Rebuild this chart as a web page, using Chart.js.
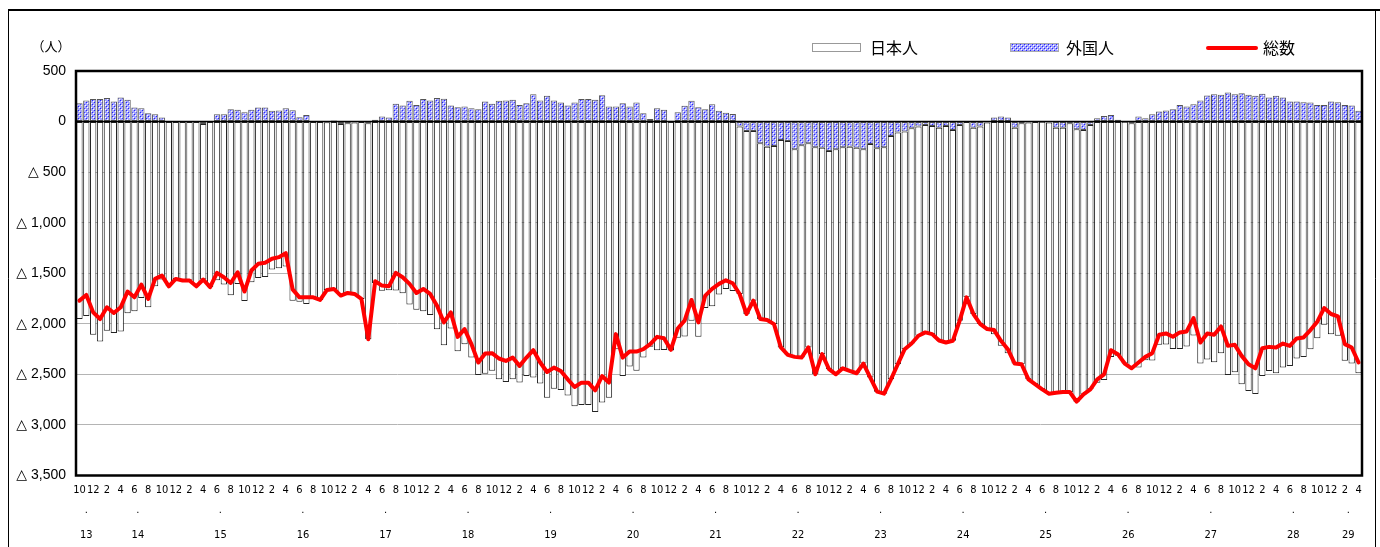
<!DOCTYPE html>
<html>
<head>
<meta charset="utf-8">
<script src="https://cdn.jsdelivr.net/npm/chart.js@4.4.1/dist/chart.umd.min.js"></script>
<style>
html, body { margin: 0; padding: 0; background: #fff; }
</style>
</head>
<body>
<canvas id="c" width="1380" height="547"></canvas>
<script>
// monthly change, H13.10 - H29.4
var firstMonth = 10;

// year row under the month ticks (position in months from H13.10)
var years = ['13','14','15','16','17','18','19','20','21','22','23','24','25','26','27','28','29'];
var yearAt = [1, 8.5, 20.5, 32.5, 44.5, 56.5, 68.5, 80.5, 92.5, 104.5, 116.5, 128.5, 140.5, 152.5, 164.5, 176.5, 184.5];

// 総数 (line)
var total = [
  -1771,-1715,-1887,-1953,-1837,-1893,-1837,-1681,-1738,-1612,
  -1754,-1556,-1523,-1629,-1556,-1572,-1572,-1629,-1562,-1638,
  -1496,-1539,-1596,-1490,-1681,-1473,-1407,-1397,-1357,-1341,
  -1301,-1660,-1738,-1738,-1738,-1764,-1665,-1655,-1721,-1695,
  -1705,-1754,-2152,-1579,-1622,-1629,-1496,-1539,-1605,-1695,
  -1655,-1705,-1821,-1986,-1887,-2129,-2052,-2201,-2383,-2294,
  -2290,-2343,-2367,-2334,-2416,-2334,-2261,-2383,-2476,-2433,
  -2466,-2549,-2625,-2582,-2582,-2658,-2516,-2582,-2102,-2334,
  -2274,-2274,-2251,-2201,-2129,-2142,-2257,-2046,-1969,-1764,
  -1986,-1721,-1655,-1605,-1570,-1599,-1705,-1903,-1771,-1953,
  -1963,-2003,-2234,-2307,-2327,-2334,-2234,-2499,-2300,-2449,
  -2499,-2440,-2466,-2489,-2393,-2532,-2671,-2691,-2549,-2400,
  -2251,-2195,-2118,-2085,-2102,-2165,-2185,-2168,-1969,-1738,
  -1903,-2003,-2052,-2062,-2168,-2251,-2393,-2400,-2549,-2598,
  -2648,-2691,-2681,-2674,-2674,-2770,-2698,-2648,-2549,-2499,
  -2261,-2300,-2393,-2440,-2383,-2327,-2290,-2108,-2095,-2128,
  -2085,-2075,-1943,-2185,-2095,-2108,-2026,-2218,-2208,-2317,
  -2400,-2440,-2241,-2228,-2234,-2195,-2218,-2145,-2135,-2062,
  -1979,-1844,-1903,-1926,-2201,-2234,-2383
];

// 外国人
var foreign = [
  182,208,222,222,232,199,238,215,139,132,
  83,73,40,0,0,0,-5,0,-23,0,
  73,73,122,116,93,116,139,139,106,109,
  132,112,43,66,0,0,-7,10,-23,-17,
  -10,0,-17,17,50,40,175,159,205,165,
  222,208,232,225,159,142,149,132,122,199,
  175,205,208,215,165,182,271,208,255,208,
  189,159,189,222,222,215,261,149,149,182,
  149,189,83,26,132,116,7,93,156,205,
  142,122,172,106,86,76,-50,-93,-93,-215,
  -248,-242,-182,-192,-275,-235,-215,-255,-258,-291,
  -275,-255,-248,-258,-275,-222,-265,-255,-142,-109,
  -99,-66,-50,-33,-43,-60,-43,-83,-33,0,
  -60,-50,-10,40,50,40,-60,-17,-10,0,
  -3,-10,-60,-60,-17,-76,-83,-33,33,56,
  66,17,-3,-17,50,33,73,99,109,122,
  165,149,172,208,258,271,265,288,271,281,
  265,255,275,238,255,238,199,199,192,189,
  165,165,199,192,165,159,106
];

// 日本人 = 総数 - 外国人
var japanese = total.map(function (t, i) { return t - foreign[i]; });

// month ticks, every 2nd month
var labels = [];
for (var i = 0; i < total.length; i++) {
  var m = (firstMonth - 1 + i) % 12 + 1;
  labels.push(i % 2 === 0 ? String(m) : '');
}

function dotPattern() {
  var p = document.createElement('canvas');
  p.width = 4; p.height = 4;
  var g = p.getContext('2d');
  g.fillStyle = '#a4a4ff';
  g.fillRect(0, 0, 4, 4);
  g.fillStyle = '#ffffff';
  g.fillRect(1, 1, 1, 1); g.fillRect(3, 3, 1, 1);
  g.fillStyle = '#2424ff';
  g.fillRect(0, 0, 1, 1); g.fillRect(2, 2, 1, 1);
  return g.createPattern(p, 'repeat');
}
var pattern = dotPattern();

var cjk = "'Noto Sans CJK JP', 'Noto Sans', sans-serif";
var num = "'Liberation Sans', 'DejaVu Sans', 'Noto Sans CJK JP', sans-serif";
var narrow = "'Liberation Sans Narrow', 'DejaVu Sans Condensed', 'Liberation Sans', sans-serif";

var framePlugin = {
  id: 'frame',
  afterDatasetsDraw: function (chart) {
    var c = chart.ctx, a = chart.chartArea;
    var y0 = chart.scales.y.getPixelForValue(0);
    c.save();
    c.strokeStyle = '#000';
    c.lineWidth = 1.5;
    c.beginPath(); c.moveTo(a.left, y0); c.lineTo(a.right, y0); c.stroke();
    c.restore();
  },
  afterDraw: function (chart) {
    var c = chart.ctx, a = chart.chartArea, xs = chart.scales.x;
    c.save();
    // outer frame
    c.strokeStyle = '#000';
    c.lineWidth = 1;
    c.beginPath();
    c.moveTo(8.5, 547); c.lineTo(8.5, 10.5); c.lineTo(1375.5, 10.5); c.lineTo(1375.5, 547);
    c.stroke();
    c.lineWidth = 2;
    c.beginPath(); c.moveTo(8, 10); c.lineTo(1380, 10); c.stroke();
    // plot border
    c.lineWidth = 2.5;
    c.strokeRect(a.left, a.top, a.right - a.left, a.bottom - a.top);

    // year row
    c.fillStyle = '#000';
    c.font = '11px ' + narrow;
    c.textAlign = 'center';
    c.textBaseline = 'middle';
    years.forEach(function (y, k) {
      var x = xs.getPixelForValue(yearAt[k]);
      c.fillText('.', x, 510);
      c.fillText(y, x, 535);
    });

    // unit
    c.font = '13px ' + cjk;
    c.fillText('（人）', 51, 46);

    // legend
    c.textAlign = 'left';
    c.font = '16px ' + cjk;
    c.lineWidth = 1;
    c.fillStyle = '#fff';
    c.strokeStyle = '#999';
    c.fillRect(812, 43, 49, 9);
    c.strokeRect(812.5, 43.5, 48, 8);
    c.fillStyle = '#000';
    c.fillText('日本人', 870, 48);

    c.fillStyle = pattern;
    c.fillRect(1010, 43, 49, 9);
    c.strokeStyle = '#aaa';
    c.strokeRect(1010.5, 43.5, 48, 8);
    c.fillStyle = '#000';
    c.fillText('外国人', 1066, 48);

    c.strokeStyle = '#ff0000';
    c.lineWidth = 4;
    c.lineCap = 'round';
    c.beginPath(); c.moveTo(1208, 48); c.lineTo(1256, 48); c.stroke();
    c.fillText('総数', 1263, 48);
    c.restore();
  }
};

new Chart(document.getElementById('c'), {
  type: 'bar',
  data: {
    labels: labels,
    datasets: [
      {
        type: 'line', label: '総数', data: total,
        borderColor: '#ff0000', borderWidth: 4, pointRadius: 0, tension: 0,
        borderJoinStyle: 'round', borderCapStyle: 'round',
        stack: 'sum', order: 0
      },
      {
        label: '外国人', data: foreign,
        backgroundColor: pattern, borderColor: '#555', borderWidth: 1,
        borderSkipped: false, stack: 'pop', order: 1
      },
      {
        label: '日本人', data: japanese,
        backgroundColor: '#ffffff', borderColor: '#222', borderWidth: 1,
        borderSkipped: false, stack: 'pop', order: 1
      }
    ]
  },
  options: {
    responsive: false,
    animation: false,
    layout: { padding: { top: 71, right: 18, left: 0, bottom: 0 } },
    datasets: { bar: { barPercentage: 0.92, categoryPercentage: 1 } },
    plugins: { legend: { display: false }, tooltip: { enabled: false } },
    scales: {
      x: {
        stacked: true,
        offset: true,
        grid: { display: false, drawTicks: false },
        border: { display: false },
        ticks: {
          autoSkip: false, maxRotation: 0, minRotation: 0, padding: 3.5,
          color: '#000',
          font: { family: narrow, size: 11, lineHeight: '22px' }
        },
        afterFit: function (s) { s.height = 71.5; }
      },
      y: {
        stacked: true,
        min: -3500, max: 500,
        grid: {
          drawTicks: false,
          lineWidth: 1,
          color: function (ctx) { return ctx.tick && ctx.tick.value === 0 ? '#000' : '#b4b4b4'; }
        },
        border: { display: false },
        ticks: {
          stepSize: 500, padding: 10, color: '#000',
          font: { family: num, size: 14 },
          callback: function (v) {
            return v < 0 ? '△ ' + Math.abs(v).toLocaleString('en-US') : String(v);
          }
        },
        afterFit: function (s) { s.width = 76; }
      }
    }
  },
  plugins: [framePlugin]
});
</script>
</body>
</html>
